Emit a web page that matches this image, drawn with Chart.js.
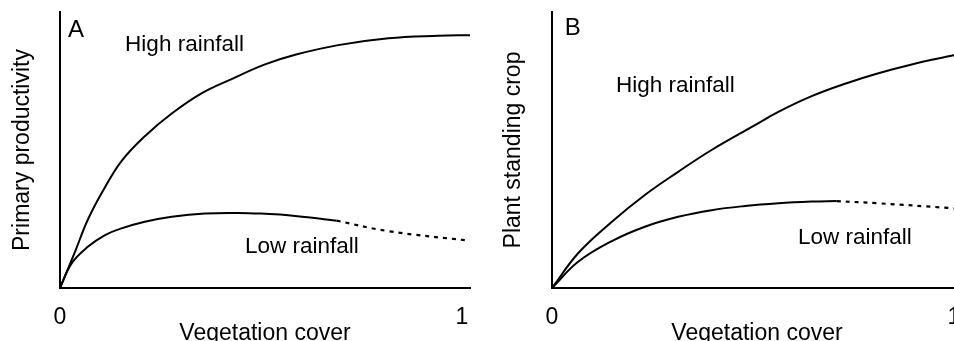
<!DOCTYPE html>
<html>
<head>
<meta charset="utf-8">
<script src="https://cdn.jsdelivr.net/npm/chart.js@4.4.0/dist/chart.umd.min.js"></script>
<style>
html, body { margin: 0; padding: 0; background: #fff; overflow: hidden; }
#wrap { position: relative; width: 954px; height: 341px; overflow: hidden; }
#panelA { position: absolute; left: 0; top: 0; }
#panelB { position: absolute; left: 480px; top: 0; }
</style>
</head>
<body>
<div id="wrap">
  <canvas id="panelA" width="480" height="380"></canvas>
  <canvas id="panelB" width="490" height="380"></canvas>
</div>
<script>
// tick labels on the vegetation cover axis
const xTicks = [0, 1];

// Panel A: primary productivity vs vegetation cover
const highCoverA = [0, 0.037, 0.070, 0.112, 0.153, 0.211, 0.278, 0.352, 0.427, 0.510, 0.585, 0.692, 0.817, 0.941, 1.02];
const highProdA  = [0, 0.130, 0.250, 0.365, 0.460, 0.550, 0.632, 0.705, 0.757, 0.810, 0.845, 0.880, 0.905, 0.914, 0.916];
const lowCoverA  = [0, 0.029, 0.070, 0.112, 0.153, 0.211, 0.278, 0.361, 0.444, 0.510, 0.568, 0.688];
const lowProdA   = [0, 0.089, 0.150, 0.192, 0.216, 0.240, 0.258, 0.270, 0.272, 0.269, 0.264, 0.244];
const lowDashCoverA = [0.688, 0.817, 1.02];
const lowDashProdA  = [0.244, 0.206, 0.171];

// Panel B: plant standing crop vs vegetation cover
const highCoverB = [0, 0.065, 0.149, 0.231, 0.314, 0.397, 0.505, 0.563, 0.646, 0.729, 0.812, 0.895, 1.002, 1.02];
const highCropB  = [0, 0.126, 0.240, 0.337, 0.421, 0.500, 0.590, 0.638, 0.695, 0.740, 0.778, 0.810, 0.844, 0.850];
const lowCoverB  = [0, 0.065, 0.149, 0.231, 0.314, 0.397, 0.480, 0.563, 0.646, 0.708];
const lowCropB   = [0, 0.095, 0.170, 0.222, 0.258, 0.282, 0.297, 0.307, 0.313, 0.315];
const lowDashCoverB = [0.708, 0.811, 0.986, 1.02];
const lowDashCropB  = [0.315, 0.307, 0.290, 0.285];

const FONT = '"Liberation Sans", Arial, Helvetica, sans-serif';
const CANVAS_H = 380;
const AXIS_Y = 288;

function pts(xs, ys) {
    return xs.map((v, i) => ({x: v, y: ys[i]}));
}

function curve(xs, ys, dashed) {
    return {
        data: pts(xs, ys),
        borderColor: '#000',
        borderWidth: dashed ? 2.2 : 2,
        borderDash: dashed ? [4, 5] : [],
        pointRadius: 0,
        tension: 0.4,
        fill: false
    };
}

const notes = {
    id: 'notes',
    afterDatasetsDraw(chart, args, opts) {
        const {ctx} = chart;
        const x = chart.scales.x, y = chart.scales.y;
        ctx.save();
        ctx.fillStyle = '#000';
        ctx.textAlign = 'left';
        ctx.textBaseline = 'alphabetic';
        for (const n of opts.items) {
            ctx.font = n.size + 'px ' + FONT;
            ctx.fillText(n.text, x.getPixelForValue(n.x), y.getPixelForValue(n.y));
        }
        ctx.restore();
    }
};

function makePanel(id, yTitle, axisLeft, titleCenter, padRight, datasets, items) {
    return new Chart(document.getElementById(id), {
        type: 'line',
        data: {datasets: datasets},
        plugins: [notes],
        options: {
            responsive: false,
            animation: false,
            layout: {padding: {left: 0, top: 12, right: padRight, bottom: 0}},
            plugins: {
                legend: {display: false},
                tooltip: {enabled: false},
                notes: {items: items}
            },
            scales: {
                x: {
                    type: 'linear',
                    min: 0,
                    max: 1.02,
                    grid: {display: false, drawTicks: false},
                    border: {display: true, color: '#000', width: 2},
                    afterBuildTicks: s => { s.ticks = xTicks.map(v => ({value: v})); },
                    afterFit: s => {
                        s.height = CANVAS_H - AXIS_Y;
                        s.paddingLeft = 0;
                        s.paddingRight = 0;
                    },
                    ticks: {
                        autoSkip: false,
                        maxRotation: 0,
                        padding: 15.5,
                        color: '#000',
                        font: {family: FONT, size: 23},
                        callback: v => String(v)
                    },
                    title: {
                        display: true,
                        text: 'Vegetation cover',
                        color: '#000',
                        font: {family: FONT, size: 23},
                        padding: {top: 0, bottom: 32.5}
                    }
                },
                y: {
                    type: 'linear',
                    min: 0,
                    max: 1,
                    grid: {display: false, drawTicks: false},
                    border: {display: true, color: '#000', width: 2},
                    ticks: {display: false},
                    afterFit: s => {
                        s.width = axisLeft;
                        s.paddingTop = 0;
                        s.paddingBottom = 0;
                    },
                    title: {
                        display: true,
                        text: yTitle,
                        color: '#000',
                        font: {family: FONT, size: 23},
                        padding: {top: titleCenter - 13.8, bottom: 0}
                    }
                }
            }
        }
    });
}

makePanel('panelA', 'Primary productivity', 60, 23, 10, [
    curve(highCoverA, highProdA, false),
    curve(lowCoverA, lowProdA, false),
    curve(lowDashCoverA, lowDashProdA, true)
], [
    {text: 'A', x: 0.020, y: 0.909, size: 24},
    {text: 'High rainfall', x: 0.162, y: 0.859, size: 22.5},
    {text: 'Low rainfall', x: 0.460, y: 0.126, size: 22.5}
]);

makePanel('panelB', 'Plant standing crop', 72, 34, 8, [
    curve(highCoverB, highCropB, false),
    curve(lowCoverB, lowCropB, false),
    curve(lowDashCoverB, lowDashCropB, true)
], [
    {text: 'B', x: 0.032, y: 0.917, size: 24},
    {text: 'High rainfall', x: 0.159, y: 0.711, size: 22.5},
    {text: 'Low rainfall', x: 0.612, y: 0.159, size: 22.5}
]);
</script>
</body>
</html>
